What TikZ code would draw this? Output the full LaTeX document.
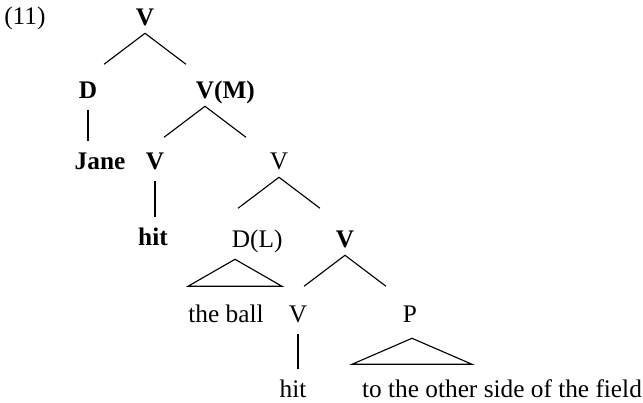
\documentclass[tikz,border=0pt]{standalone}
\usepackage{fontspec}
\setmainfont{Liberation Serif}
\usetikzlibrary{calc}

\begin{document}
\begin{tikzpicture}[
    x=0.025cm,y=-0.025cm,
    cat/.style={inner sep=0pt,anchor=base,text height=0.45cm,text depth=0.2cm,
      font=\fontsize{18}{21}\selectfont},
    hd/.style={cat,font=\fontsize{18}{21}\selectfont\bfseries},
    branch/.style={line width=0.8pt},
    stem/.style={line width=0.8pt,shorten <=0.1cm,shorten >=0.25cm}
  ]
    \useasboundingbox (0,0) rectangle (643,402);
    \node[cat,anchor=base west] (num) at (4,24) {(11)};
    \node[hd] (v0) at (145,25) {V};
    \node[hd] (d) at (88,98) {D};
    \node[hd] (vm) at (205,98) {V\rlap{(M)}};
    \node[hd] (jane) at (100,169) {Jane};
    \node[hd] (vb) at (155,169) {V};
    \node[cat] (vr) at (279,169) {V};
    \node[hd] (hitb) at (153,245) {hit};
    \node[cat] (dl) at (241,247) {D\rlap{(L)}};
    \node[hd] (vb2) at (345,247) {V};
    \node[cat] (ball) at (226,322) {the ball};
    \node[cat] (vr2) at (298,322) {V};
    \node[cat] (p) at (410,322) {P};
    \node[cat] (hit) at (293,397) {hit};
    \node[cat] (field) at (502,397) {to the other side of the field};
    \draw[branch] ([shift={(-41,31)}]v0.south) -- (v0.south) -- ++(41,31);
    \draw[branch] ([shift={(-41,31)}]vm.south) -- (vm.south) -- ++(41,31);
    \draw[branch] ([shift={(-41,31)}]vr.south) -- (vr.south) -- ++(41,31);
    \draw[branch] ([shift={(-41,31)}]vb2.south) -- (vb2.south) -- ++(41,31);
    \draw[stem] (d.south) -- (d.south |- jane.north);
    \draw[stem] (vb.south) -- (vb.south |- hitb.north);
    \draw[stem] (vr2.south) -- (vr2.south |- hit.north);
    \draw[branch] ([shift={(-6,4)}]dl.south) -- ++(47,27) -- ++(-94,0) -- cycle;
    \draw[branch] ([shift={(2,8)}]p.south) -- ++(60,26) -- ++(-120,0) -- cycle;
  \end{tikzpicture}
\end{document}
